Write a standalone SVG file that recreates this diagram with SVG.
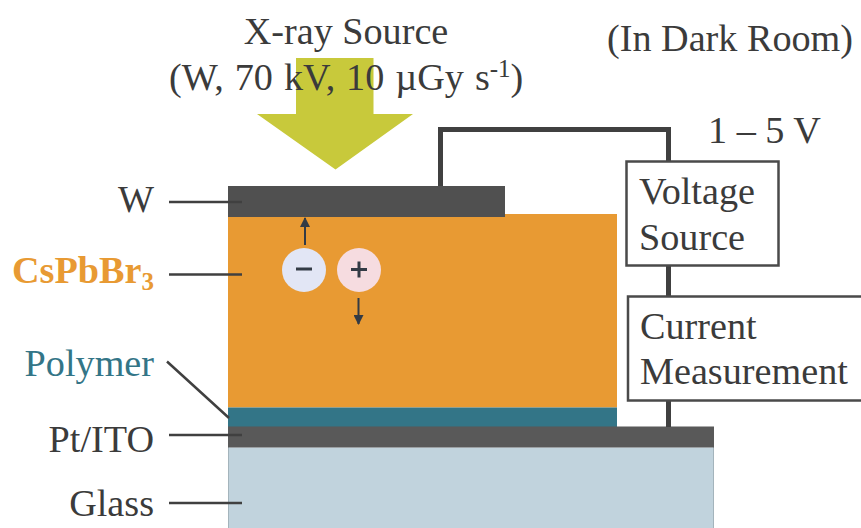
<svg xmlns="http://www.w3.org/2000/svg" width="861" height="528" viewBox="0 0 861 528">
<style>
text{font-family:"Liberation Serif","Times New Roman",serif;font-size:38.2px;fill:#3b3b3b}
.lead{stroke:#404040;stroke-width:2.5;fill:none}
.wire{stroke:#404040;stroke-width:5;fill:none}
.box{fill:#fff;stroke:#4a4a4a;stroke-width:2.5}
.sm{stroke:#333b45;stroke-width:2;fill:none}
</style>
<defs><marker id="ah" markerUnits="userSpaceOnUse" markerWidth="10" markerHeight="10" refX="9" refY="5" orient="auto"><path d="M0,0L10,5L0,10Z" fill="#333b45"/></marker></defs>
<rect width="861" height="528" fill="#fff"/>
<g id="glass"><rect x="228" y="447.500" width="486" height="80.500" fill="#c1d3dd"/><path d="M228.500 447V528M713.500 447V528" stroke="#a4b4bc" stroke-width="1"/></g>
<g id="perovskite"><rect x="228" y="214" width="389" height="193.500" fill="#e89a33"/></g>
<g id="polymer"><rect x="228" y="407.500" width="389" height="19.500" fill="#337587"/></g>
<g id="pt-ito"><rect x="228" y="426.500" width="486" height="21" fill="#595959"/></g>
<g id="w-electrode"><rect x="228" y="186" width="277" height="31" fill="#505050"/></g>
<g id="connectors">
<path class="wire" d="M440.500 186V129.500H668.500V163M668.500 264V296M668.500 400V427"/>
<path class="lead" d="M169 202H242M169 274.500H242M167 361.500L229 418M169 435H242M169 503H242"/>
<path class="sm" d="M305 245V218" marker-end="url(#ah)"/>
<path class="sm" d="M358.500 298V324" marker-end="url(#ah)"/>
</g>
<g id="xray-arrow"><path d="M296 58H373.500V114H413L335.500 169.500L257 114H296Z" fill="#c8c93b"/></g>
<g id="xray-label">
<text x="346" y="44" text-anchor="middle">X-ray Source</text>
<text x="169" y="90" word-spacing="1.400">(W, 70 kV, 10 µGy s<tspan font-size="25" dy="-13">-1</tspan><tspan dy="13">)</tspan></text>
</g>
<g id="dark-room"><text x="607" y="51">(In Dark Room)</text></g>
<g id="voltage-label"><text x="708" y="143">1 – 5 V</text></g>
<g id="voltage-source"><rect class="box" x="626.500" y="161.500" width="152" height="104"/><text x="639" y="204">Voltage</text><text x="639" y="250">Source</text></g>
<g id="current-measurement"><rect class="box" x="628" y="296.500" width="240" height="104"/><text x="640" y="338.500">Current</text><text x="640" y="384">Measurement</text></g>
<g id="label-w"><text x="154" y="212" text-anchor="end">W</text></g>
<g id="label-cspbbr3"><text x="12" y="282.500" font-weight="bold" style="fill:#e89a33">CsPbBr<tspan font-size="25" dy="7">3</tspan></text></g>
<g id="label-polymer"><text x="154" y="376" text-anchor="end" style="fill:#337587">Polymer</text></g>
<g id="label-pt-ito"><text x="154" y="452" text-anchor="end">Pt/ITO</text></g>
<g id="label-glass"><text x="154" y="516" text-anchor="end">Glass</text></g>
<g id="electron"><circle cx="304" cy="270" r="22" fill="#e2e6f5"/><path d="M296 269H312" stroke="#333b45" stroke-width="3"/></g>
<g id="hole"><circle cx="359" cy="270" r="22" fill="#f6dce0"/><path d="M351 269.500H367M359 261.500V277.500" stroke="#333b45" stroke-width="3"/></g>
</svg>
